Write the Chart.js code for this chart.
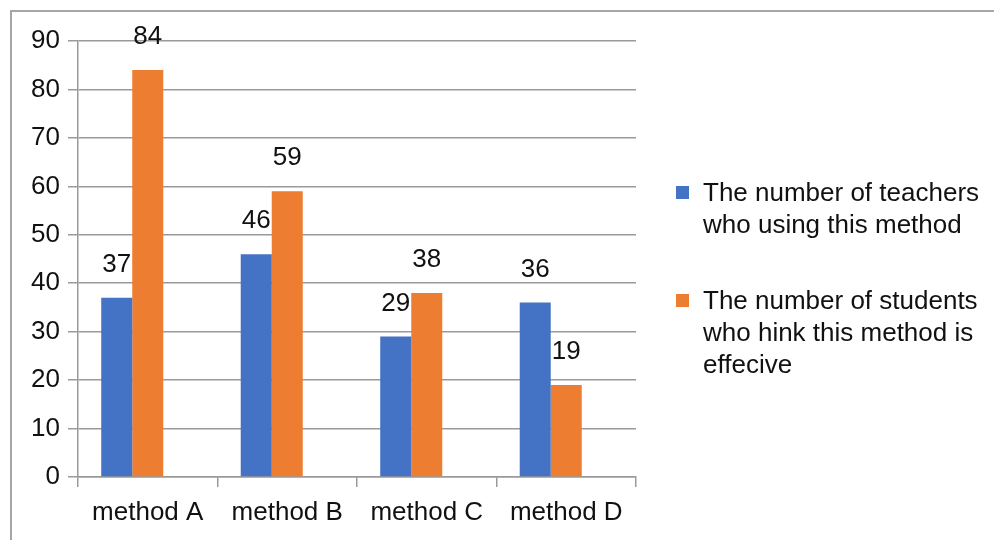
<!DOCTYPE html>
<html>
<head>
<meta charset="utf-8">
<script src="https://cdn.jsdelivr.net/npm/chart.js@4/dist/chart.umd.min.js"></script>
<style>
  html, body { margin: 0; padding: 0; background: #fff; overflow: hidden; }
  #frame { position: absolute; left: 10px; top: 10px; width: 1000px; height: 600px;
           border-left: 2px solid #a6a6a6; border-top: 2px solid #a6a6a6; }
  #wrap { position: absolute; left: 0; top: 0; width: 994px; height: 540px; }
</style>
</head>
<body>
<div id="frame"></div>
<div id="wrap"><canvas id="c" width="994" height="540"></canvas></div>
<script>
const categories = ['method A', 'method B', 'method C', 'method D'];
const teachers = [37, 46, 29, 36];
const students = [84, 59, 38, 19];
const emptySeries = [null, null, null, null];
const seriesNames = [
  'The number of teachers who using this method',
  'The number of students who hink this method is effecive'
];
const yTicks = [0, 10, 20, 30, 40, 50, 60, 70, 80, 90];

const FONT = '"Liberation Sans", Arial, sans-serif';
const GRID = '#9a9a9a';
const SIZE = 26;

// value labels above each bar
const valueLabels = {
  id: 'valueLabels',
  afterDatasetsDraw(chart) {
    const ctx = chart.ctx;
    ctx.save();
    ctx.font = SIZE + 'px ' + FONT;
    ctx.fillStyle = '#111';
    ctx.textAlign = 'center';
    ctx.textBaseline = 'middle';
    chart.data.datasets.forEach((ds, i) => {
      if (!ds.label) return;
      chart.getDatasetMeta(i).data.forEach((bar, j) => {
        if (ds.data[j] == null) return;
        ctx.fillText(String(ds.data[j]), bar.x, bar.y - 33);
      });
    });
    ctx.restore();
  }
};

// legend on the right with wrapped labels
const sideLegend = {
  id: 'sideLegend',
  afterDraw(chart) {
    const ctx = chart.ctx;
    const textX = 703, markX = 676, maxW = 289, lineH = 32, entryGap = 44;
    let y = 194;
    ctx.save();
    ctx.font = SIZE + 'px ' + FONT;
    ctx.textBaseline = 'middle';
    ctx.textAlign = 'left';
    chart.data.datasets.forEach(ds => {
      if (!ds.label) return;
      const words = ds.label.split(' ');
      const lines = [];
      let cur = '';
      words.forEach(w => {
        const test = cur ? cur + ' ' + w : w;
        if (ctx.measureText(test).width > maxW && cur) { lines.push(cur); cur = w; }
        else cur = test;
      });
      if (cur) lines.push(cur);
      ctx.fillStyle = ds.backgroundColor;
      ctx.fillRect(markX, y - 8, 13, 13);
      ctx.fillStyle = '#111';
      lines.forEach((ln, k) => ctx.fillText(ln, textX, y + k * lineH));
      y += lines.length * lineH + entryGap;
    });
    ctx.restore();
  }
};

new Chart(document.getElementById('c'), {
  type: 'bar',
  data: {
    labels: categories,
    datasets: [
      { label: seriesNames[0], data: teachers, backgroundColor: '#4472C4' },
      { label: seriesNames[1], data: students, backgroundColor: '#ED7D31' },
      { label: '', data: emptySeries, backgroundColor: 'rgba(0,0,0,0)' }
    ]
  },
  plugins: [valueLabels, sideLegend],
  options: {
    responsive: false,
    animation: false,
    devicePixelRatio: 1,
    layout: { padding: { top: 41, right: 358, left: 0, bottom: 0 } },
    datasets: { bar: { categoryPercentage: 0.667, barPercentage: 1.0 } },
    plugins: { legend: { display: false }, tooltip: { enabled: false } },
    scales: {
      x: {
        afterFit(scale) { scale.height = 63; },
        grid: { offset: true, drawOnChartArea: false, drawTicks: true, tickLength: 10,
                color: GRID, lineWidth: 1.5 },
        border: { display: true, color: GRID, width: 1.5 },
        ticks: { color: '#111', font: { family: FONT, size: SIZE }, padding: 10, maxRotation: 0 }
      },
      y: {
        min: 0, max: 90,
        afterFit(scale) { scale.width = 78; },
        afterBuildTicks(scale) { scale.ticks = yTicks.map(v => ({ value: v })); },
        grid: { color: GRID, lineWidth: 1.5, tickLength: 10, drawTicks: true },
        border: { display: true, color: GRID, width: 1.5 },
        ticks: { color: '#111', font: { family: FONT, size: SIZE }, padding: 8 }
      }
    }
  }
});
</script>
</body>
</html>
